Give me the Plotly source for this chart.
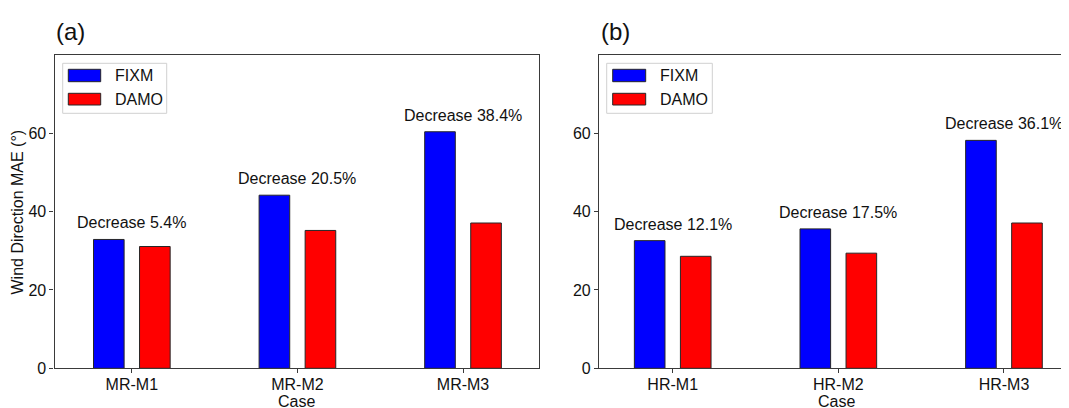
import plotly.graph_objects as go

W, H = 1069, 408
OFF = 8  # page body margin in the browser

cases_mr = ["MR-M1", "MR-M2", "MR-M3"]
fixm_mr = [32.9, 44.2, 60.4]
damo_mr = [31.1, 35.2, 37.1]
decrease_mr = ["Decrease 5.4%", "Decrease 20.5%", "Decrease 38.4%"]

cases_hr = ["HR-M1", "HR-M2", "HR-M3"]
fixm_hr = [32.6, 35.6, 58.2]
damo_hr = [28.6, 29.4, 37.1]
decrease_hr = ["Decrease 12.1%", "Decrease 17.5%", "Decrease 36.1%"]

series_names = ["FIXM", "DAMO"]
series_colors = ["#0000ff", "#ff0000"]
y_ticks = [0, 20, 40, 60]

FONT = "Arial, Liberation Sans, Helvetica, sans-serif"
EDGE = "#262626"
SPINE = "#3a3a3a"


def px(x):
    return (x - OFF) / W


def py(y):
    return 1 - (y - OFF) / H


fig = go.Figure()

panels = [
    ("x", "y", cases_mr, fixm_mr, damo_mr, decrease_mr),
    ("x2", "y2", cases_hr, fixm_hr, damo_hr, decrease_hr),
]

for xa, ya, cats, fixm, damo, dec in panels:
    for name, color, vals in zip(series_names, series_colors, [fixm, damo]):
        fig.add_trace(go.Bar(
            x=cats, y=vals, name=name, xaxis=xa, yaxis=ya,
            marker=dict(color=color, line=dict(color=EDGE, width=1)),
            showlegend=False,
        ))
    for c, v, t in zip(cats, fixm, dec):
        fig.add_annotation(
            x=c, y=v, xref=xa, yref=ya, text=t, showarrow=False,
            yanchor="bottom", xanchor="center", yshift=6,
            font=dict(family=FONT, size=16, color="#111"),
        )

axis_common = dict(
    showline=True, linecolor=SPINE, linewidth=1.2,
    ticks="outside", ticklen=4, tickcolor=SPINE, tickwidth=1.2,
    tickfont=dict(family=FONT, size=16, color="#111"),
    showgrid=False, zeroline=False, automargin=False,
)

fig.update_layout(
    width=W, height=H,
    margin=dict(l=0, r=0, t=0, b=0),
    paper_bgcolor="white", plot_bgcolor="white",
    barmode="group", bargap=0.444, bargroupgap=0.335,
    showlegend=False,
    xaxis=dict(domain=[px(54.5), px(538.7)], range=[-0.467, 2.457],
               anchor="y", mirror=True, ticklabelstandoff=-3, **axis_common),
    yaxis=dict(domain=[py(368.3), py(55)], range=[0, 80], tickvals=y_ticks,
               anchor="x", mirror=True, **axis_common),
    xaxis2=dict(domain=[px(599), 1.0], range=[-0.445, 2.441],
                anchor="y2", mirror=True, ticklabelstandoff=-3, **axis_common),
    yaxis2=dict(domain=[py(368.3), py(55)], range=[0, 80], tickvals=y_ticks,
                anchor="x2", mirror=False, **axis_common),
)

# Axis titles and panel labels
fig.add_annotation(x=px(17), y=py(212.5), xref="paper", yref="paper",
                   text="Wind Direction MAE (°)", textangle=-90, showarrow=False,
                   xanchor="center", yanchor="middle",
                   font=dict(family=FONT, size=16, color="#111"))
for cx in [px(296.6), px(836)]:
    fig.add_annotation(x=cx, y=py(401), xref="paper", yref="paper", text="Case",
                       showarrow=False, xanchor="center", yanchor="middle",
                       font=dict(family=FONT, size=16, color="#111"))
for lx, lab in [(px(54), "(a)"), (px(599), "(b)")]:
    fig.add_annotation(x=lx, y=py(31), xref="paper", yref="paper", text=lab,
                       showarrow=False, xanchor="left", yanchor="middle",
                       font=dict(family=FONT, size=24, color="#111"))

# Manual legends (wide swatches like the reference)
for (bx0, bx1, sx0, sx1, tx) in [(62.7, 166.7, 68.3, 100.7, 112.7),
                                  (606.7, 712.3, 612.7, 645.7, 658.3)]:
    fig.add_shape(type="rect", xref="paper", yref="paper",
                  x0=px(bx0), x1=px(bx1), y0=py(113.3), y1=py(63.3),
                  line=dict(color="#d0d0d0", width=1), fillcolor="white")
    for (sy0, sy1), name, color in zip([(69.3, 81.7), (93.3, 105.0)], series_names, series_colors):
        fig.add_shape(type="rect", xref="paper", yref="paper",
                      x0=px(sx0), x1=px(sx1), y0=py(sy1), y1=py(sy0),
                      line=dict(color=EDGE, width=1), fillcolor=color)
        fig.add_annotation(x=px(tx), y=py((sy0 + sy1) / 2), xref="paper", yref="paper",
                           text=name, showarrow=False, xanchor="left", yanchor="middle",
                           font=dict(family=FONT, size=16, color="#111"))

fig.write_html("out.html")
